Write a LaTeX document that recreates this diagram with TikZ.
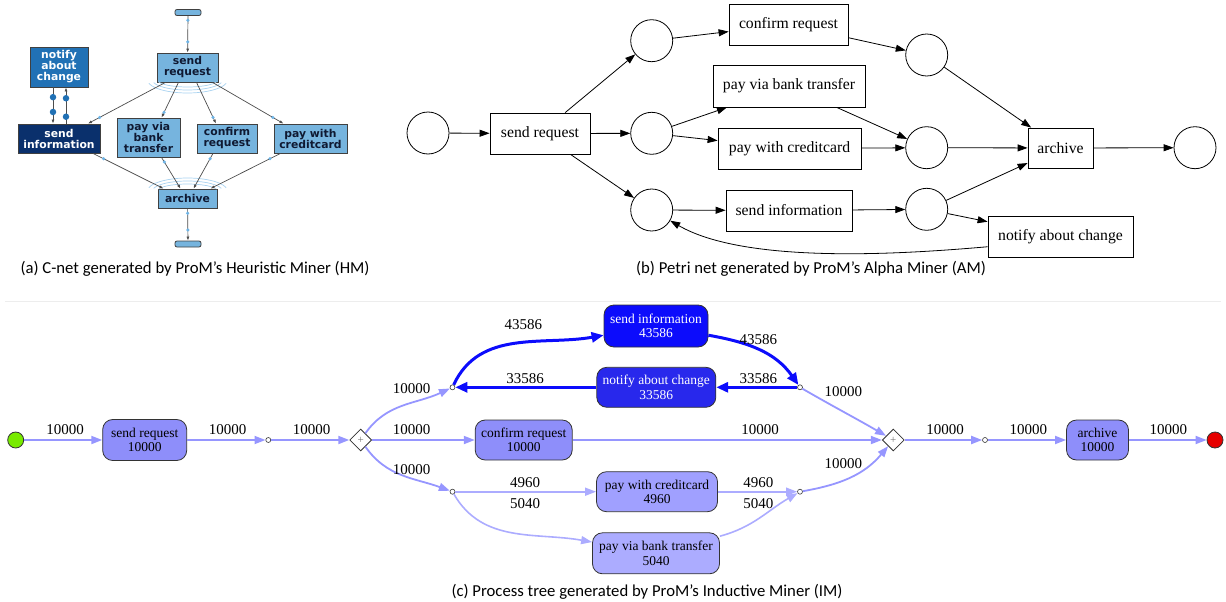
\documentclass[tikz,border=0pt]{standalone}
\usepackage{fontspec}
\setmainfont{Liberation Serif}
\newfontfamily\capfont{Carlito}
\newfontfamily\hmfont{DejaVu Sans}
\usetikzlibrary{arrows.meta,shapes.geometric,positioning}

\definecolor{hmlight}{RGB}{118,180,222}
\definecolor{hmmid}{RGB}{33,113,181}
\definecolor{hmdark}{RGB}{10,48,108}
\definecolor{hmtext}{RGB}{15,25,50}
\definecolor{hmdotc}{RGB}{110,180,230}
\definecolor{imnode}{RGB}{142,142,250}
\definecolor{imcc}{RGB}{160,160,255}
\definecolor{imbt}{RGB}{172,172,255}
\definecolor{imedge}{RGB}{150,150,255}
\definecolor{imfaintc}{RGB}{172,172,255}
\definecolor{imblue}{RGB}{12,12,252}
\definecolor{imnotify}{RGB}{40,40,236}

\tikzset{
  hmbox/.style={draw=black!75, line width=0.8pt, fill=hmlight, text=hmtext, align=center,
    inner sep=0pt, font=\hmfont\bfseries\fontsize{10.8}{11}\selectfont},
  hmedge/.style={draw=black!70, line width=0.7pt, -{Latex[length=4pt,width=3pt]}},
  hmdot/.style={circle, fill=hmdotc, inner sep=0pt, minimum size=3.5pt},
  hmbig/.style={circle, fill=hmmid, inner sep=0pt, minimum size=6.5pt},
  hmarc/.style={draw=hmdotc!60, line width=0.7pt},
  pnplace/.style={circle, draw, line width=0.8pt, minimum size=42pt, inner sep=0pt},
  pnbox/.style={draw, line width=0.8pt, minimum height=41pt, inner sep=0pt,
    font=\fontsize{15.7}{18}\selectfont},
  pnarr/.style={line width=0.8pt, -{Triangle[length=10pt,width=7pt]}},
  imbox/.style={draw=black!80, line width=0.8pt, rounded corners=10pt, fill=imnode,
    align=center, inner sep=0pt, font=\fontsize{13.5}{14.5}\selectfont},
  imtau/.style={circle, draw=black!80, fill=white, line width=0.6pt, minimum size=5pt, inner sep=0pt},
  imand/.style={diamond, draw=black!80, fill=white, line width=0.8pt, minimum size=22pt,
    inner sep=0pt, text=black!55, font=\fontsize{11}{11}\selectfont},
  imarr/.style={draw=imedge, line width=1.8pt, -{Triangle[length=11pt,width=8pt]}},
  imbold/.style={draw=imblue, line width=3pt, -{Triangle[length=12pt,width=10pt]}},
  imfaint/.style={draw=imfaintc, line width=1.6pt, -{Triangle[length=11pt,width=8pt]}},
  imlab/.style={font=\fontsize{15}{15}\selectfont},
  capt/.style={font=\capfont\fontsize{16.7}{19}\selectfont}
}

\begin{document}
\begin{tikzpicture}[x=1pt,y=1pt]
  \useasboundingbox (0,0) rectangle (1226,-602);
  % (a) heuristic miner
  \node[hmbox, rounded corners=2pt, minimum width=26pt, minimum height=6pt] (hstart) at (188,-12.5) {};
  \node[hmbox, minimum width=61pt, minimum height=29pt] (hsr) at (187.5,-67.5) {send\\request};
  \node[hmbox, fill=hmmid, text=white, minimum width=58pt, minimum height=40pt] (hnc) at (59,-67) {notify\\about\\change};
  \node[hmbox, fill=hmdark, text=white, minimum width=82pt, minimum height=29pt] (hsi) at (59,-138.5) {send\\information};
  \node[hmbox, minimum width=63pt, minimum height=39pt] (hbt) at (148.5,-137.5) {pay via\\bank\\transfer};
  \node[hmbox, minimum width=60pt, minimum height=29pt] (hcr) at (227,-138.5) {confirm\\request};
  \node[hmbox, minimum width=73pt, minimum height=29pt] (hcc) at (310.5,-138.5) {pay with\\creditcard};
  \node[hmbox, minimum width=59pt, minimum height=19pt] (har) at (187.5,-198.5) {archive};
  \node[hmbox, rounded corners=2pt, minimum width=26pt, minimum height=6pt] (hend) at (188,-244) {};
  \foreach \r/\s in {30/7, 35/10, 40/13}{
    \draw[hmarc] (187.5,-80) ++(195:\r pt and \s pt) arc (195:345:\r pt and \s pt);
    \draw[hmarc] (187.5,-191) ++(15:\r pt and \s pt) arc (15:165:\r pt and \s pt);
  }
  \draw[hmedge] (hstart) -- node[hmdot, pos=0.12]{} node[hmdot, pos=0.71]{} (hsr);
  \draw[hmedge] ([xshift=-22pt]hsr.south) -- node[hmdot, pos=0.85]{} ([xshift=29pt]hsi.north);
  \draw[hmedge] ([xshift=-9pt]hsr.south) -- node[hmdot, pos=0.85]{} ([xshift=13pt]hbt.north);
  \draw[hmedge] ([xshift=9pt]hsr.south) -- node[hmdot, pos=0.85]{} ([xshift=-11pt]hcr.north);
  \draw[hmedge] ([xshift=25pt]hsr.south) -- node[hmdot, pos=0.85]{} ([xshift=-27pt]hcc.north);
  \draw[hmedge] ([xshift=34pt]hsi.south) -- node[hmdot, pos=0.15]{} ([xshift=-24pt]har.north);
  \draw[hmedge] ([xshift=13pt]hbt.south) -- node[hmdot, pos=0.15]{} ([xshift=-7pt]har.north);
  \draw[hmedge] ([xshift=-14pt]hcr.south) -- node[hmdot, pos=0.15]{} ([xshift=6pt]har.north);
  \draw[hmedge] ([xshift=-30pt]hcc.south) -- node[hmdot, pos=0.15]{} ([xshift=23pt]har.north);
  \draw[hmedge] (har) -- node[hmdot, pos=0.15]{} node[hmdot, pos=0.67]{} (hend);
  \draw[hmedge] ([xshift=-6pt]hnc.south) -- node[hmbig, pos=0.27]{} node[hmbig, pos=0.68]{} ([xshift=-6pt]hsi.north);
  \draw[hmedge] ([xshift=7pt]hsi.north) -- node[hmbig, pos=0.19]{} node[hmbig, pos=0.7]{} ([xshift=7pt]hnc.south);
  \node[capt] (capa) at (195,-269) {(a) C-net generated by ProM’s Heuristic Miner (HM)};

  % (b) alpha miner
  \node[pnplace] (pstart) at (428,-133) {};
  \node[pnbox, minimum width=100pt] (psr) at (540,-133.5) {send request};
  \node[pnplace] (pa) at (651.7,-40.7) {};
  \node[pnplace] (pb) at (651.7,-133.3) {};
  \node[pnplace] (pc) at (651.7,-210) {};
  \node[pnbox, minimum width=119pt] (pcr) at (788.5,-24.5) {confirm request};
  \node[pnbox, minimum width=152pt, minimum height=42pt] (pbt) at (789,-86) {pay via bank transfer};
  \node[pnbox, minimum width=143pt] (pcc) at (789.5,-148.5) {pay with creditcard};
  \node[pnbox, minimum width=126pt] (psi) at (789,-210.5) {send information};
  \node[pnplace] (pd) at (926.7,-55) {};
  \node[pnplace] (pe) at (926.7,-147.7) {};
  \node[pnplace] (pf) at (926.7,-209.3) {};
  \node[pnbox, minimum width=65pt, minimum height=40pt] (par) at (1060.5,-148) {archive};
  \node[pnbox, minimum width=145pt] (pnc) at (1060.5,-236.5) {notify about change};
  \node[pnplace] (pend) at (1195,-147.7) {};
  \foreach \a/\b in {pstart/psr, psr/pa, psr/pb, psr/pc, pa/pcr, pb/pbt, pb/pcc, pc/psi,
                     pcr/pd, pbt/pe, pcc/pe, psi/pf, pd/par, pe/par, pf/par, pf/pnc, par/pend}
    \draw[pnarr] (\a) -- (\b);
  \draw[pnarr] (pnc.188) to[out=185,in=-30,looseness=0.7] (pc);
  \node[capt] (capb) at (811,-269) {(b) Petri net generated by ProM’s Alpha Miner (AM)};

  \draw[black!7] (5,-301) -- (1221,-301);

  % (c) inductive miner
  \node[circle, draw=black!80, line width=0.8pt, fill={rgb,255:red,120;green,235;blue,0},
        minimum size=16pt, inner sep=0pt] (tstart) at (15.7,-440) {};
  \node[imbox, minimum width=84pt, minimum height=41pt] (tsr) at (144.7,-440) {send request\\10000};
  \node[imtau] (tx1) at (268.3,-440) {};
  \node[imand] (tand1) at (360.7,-440) {+};
  \node[imtau] (tx2) at (452.5,-387.3) {};
  \node[imtau] (tx3) at (452.5,-491.7) {};
  \node[imbox, fill=imblue, text=white, minimum width=104pt, minimum height=42pt] (tsi) at (656,-326) {send information\\43586};
  \node[imbox, fill=imnotify, text=white, minimum width=119pt, minimum height=40pt] (tnc) at (656.3,-387.3) {notify about change\\33586};
  \node[imbox, minimum width=97pt, minimum height=40pt] (tcr) at (523.7,-440) {confirm request\\10000};
  \node[imbox, fill=imcc, minimum width=121pt, minimum height=40pt] (tcc) at (657,-491.7) {pay with creditcard\\4960};
  \node[imbox, fill=imbt, minimum width=127pt, minimum height=41pt] (tbt) at (656,-553.3) {pay via bank transfer\\5040};
  \node[imtau] (tx4) at (800,-387.3) {};
  \node[imtau] (tx5) at (800,-491.7) {};
  \node[imand] (tand2) at (893.3,-440) {+};
  \node[imtau] (tx6) at (985,-440) {};
  \node[imbox, minimum width=62pt, minimum height=40pt] (tar) at (1097.5,-440) {archive\\10000};
  \node[circle, draw=black!80, line width=0.8pt, fill={rgb,255:red,230;green,0;blue,0},
        minimum size=16pt, inner sep=0pt] (tend) at (1215,-440) {};

  \foreach \a/\b in {tstart/tsr, tsr/tx1, tx1/tand1, tand1/tcr, tcr/tand2, tand2/tx6, tx6/tar, tar/tend}
    \draw[imarr] (\a) -- (\b);
  \draw[imarr] (tand1) to[out=55,in=205] (tx2);
  \draw[imarr] (tand1) to[out=-55,in=160] (tx3);
  \draw[imarr] (tx4) to[out=-30,in=150] (tand2);
  \draw[imarr] (tx5) to[out=10,in=230] (tand2);
  \draw[imbold] (tx2) to[out=65,in=190] (tsi);
  \draw[imbold] (tsi) to[out=-10,in=125] (tx4);
  \draw[imbold] (tx4) -- (tnc);
  \draw[imbold] (tnc) -- (tx2);
  \draw[imfaint] (tx3) -- (tcc);
  \draw[imfaint] (tcc) -- (tx5);
  \draw[imfaint] (tx3) to[out=-60,in=170] (tbt);
  \draw[imfaint] (tbt) to[out=15,in=210] (tx5);

  \foreach \x/\y/\t [count=\i] in {65/430/10000, 227.7/430/10000, 311.7/430/10000,
      411.7/388.3/10000, 411.7/430/10000, 411.7/470/10000, 523.3/325/43586, 525/378.3/33586,
      758.3/340/43586, 758.3/378.3/33586, 760/430/10000, 843.3/391.7/10000, 843.3/463.3/10000,
      945/430/10000, 1028.3/430/10000, 1168.3/430/10000, 525/482.7/4960, 525/503.3/5040,
      758.3/482.7/4960, 758.3/503.3/5040}
    \node[imlab] (lab\i) at (\x,-\y) {\t};
  \node[capt] (capc) at (647,-592) {(c) Process tree generated by ProM’s Inductive Miner (IM)};
\end{tikzpicture}
\end{document}
